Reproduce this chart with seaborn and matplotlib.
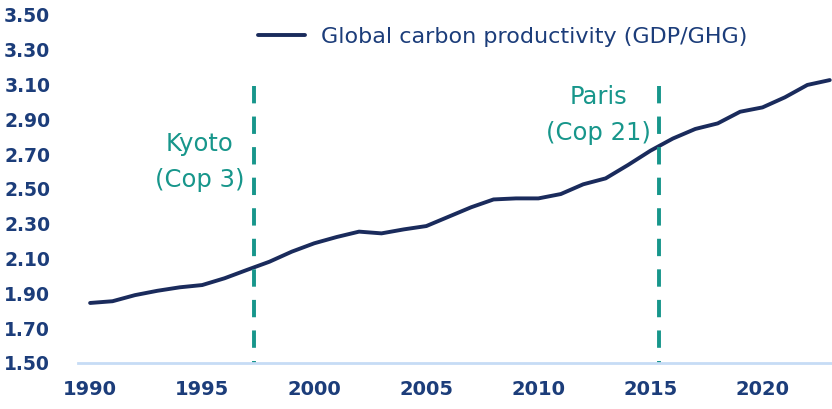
import matplotlib
matplotlib.use("Agg")
import matplotlib.pyplot as plt
import seaborn as sns
import pandas as pd

# Global carbon productivity (GDP per unit of GHG), 1990-2023
years = list(range(1990, 2024))
productivity = [1.845, 1.855, 1.89, 1.915, 1.935, 1.948, 1.987, 2.035, 2.082, 2.14,
                2.188, 2.224, 2.255, 2.245, 2.268, 2.287, 2.341, 2.395, 2.44, 2.446,
                2.446, 2.471, 2.527, 2.561, 2.638, 2.72, 2.79, 2.845, 2.877, 2.944,
                2.969, 3.027, 3.098, 3.126]
series_label = "Global carbon productivity (GDP/GHG)"

# Climate agreements marked on the chart
events = ["Kyoto\n(Cop 3)", "Paris\n(Cop 21)"]
event_years = [1997.3, 2015.4]
event_label_x = [1994.9, 2012.7]
event_label_y = [2.655, 2.925]

y_ticks = [1.50, 1.70, 1.90, 2.10, 2.30, 2.50, 2.70, 2.90, 3.10, 3.30, 3.50]
x_ticks = [1990, 1995, 2000, 2005, 2010, 2015, 2020]

NAVY = "#1a2b5c"
TICK = "#1c3d7a"
TEAL = "#17968b"
AXIS = "#c6dcf5"

sns.set_theme(style="white")
plt.rcParams["font.family"] = ["DejaVu Sans"]
plt.rcParams["lines.scale_dashes"] = False

df = pd.DataFrame({"year": years, "value": productivity})

fig = plt.figure(figsize=(8.32, 4.09), dpi=100)
ax = fig.add_axes([78 / 832, 1 - 363 / 409, 1 - 78 / 832, (363 - 15) / 409])

sns.lineplot(data=df, x="year", y="value", ax=ax, color=NAVY, linewidth=2.8,
             label=series_label)

for ev, yr, lx, ly in zip(events, event_years, event_label_x, event_label_y):
    ax.plot([yr, yr], [3.09, 1.5], color=TEAL, linewidth=2.8,
            dashes=(12.5, 9.5), solid_capstyle="butt", dash_capstyle="butt")
    ax.text(lx, ly, ev, color=TEAL, fontsize=17.5, ha="center", va="center",
            linespacing=1.6)

ax.set_xlim(1989.46, 2023.1)
ax.set_ylim(1.5, 3.5)
ax.set_xticks(x_ticks)
ax.set_yticks(y_ticks)
ax.set_yticklabels([f"{v:.2f}" for v in y_ticks])
ax.set_xlabel("")
ax.set_ylabel("")
ax.tick_params(axis="both", length=0, colors=TICK, labelsize=14)
ax.tick_params(axis="y", labelsize=13.5, pad=20)
ax.tick_params(axis="x", pad=12)
for lbl in ax.get_xticklabels() + ax.get_yticklabels():
    lbl.set_fontweight("bold")

for side in ["top", "right", "left"]:
    ax.spines[side].set_visible(False)
ax.spines["bottom"].set_color(AXIS)
ax.spines["bottom"].set_linewidth(2)
ax.grid(False)

leg = ax.legend(loc="center left", bbox_to_anchor=(258 / 832, 1 - 37 / 409),
                bbox_transform=fig.transFigure, frameon=False, fontsize=16,
                handlelength=2.1, handletextpad=0.75, borderpad=0, borderaxespad=0)
for t in leg.get_texts():
    t.set_color(TICK)

fig.savefig("out.png", dpi=100)
